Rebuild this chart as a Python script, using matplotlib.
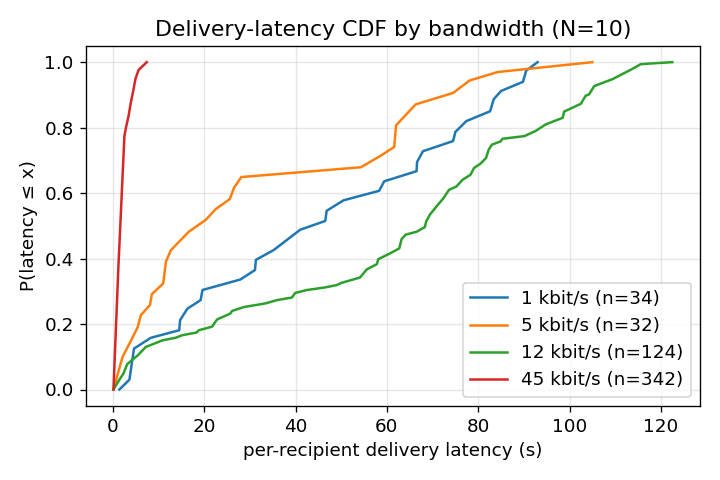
import matplotlib
matplotlib.use("Agg")
import matplotlib.pyplot as plt

# CDF vertices (latency s, cumulative probability)
lat_1k = [1.4, 3.6, 4.6, 8.3, 14.5, 14.7, 16.3, 19.2, 19.6, 27.9, 31.1, 31.3, 35.2,
          41.0, 46.5, 46.8, 50.5, 58.3, 59.4, 66.5, 66.6, 67.9, 74.5, 75.0, 77.4,
          82.6, 83.4, 85.0, 89.8, 90.5, 93.0]
cdf_1k = [0.0, 0.03, 0.125, 0.158, 0.181, 0.212, 0.247, 0.273, 0.304, 0.336, 0.365,
          0.396, 0.426, 0.488, 0.515, 0.546, 0.578, 0.607, 0.636, 0.667, 0.695, 0.728,
          0.759, 0.787, 0.82, 0.85, 0.887, 0.912, 0.94, 0.974, 1.0]

lat_5k = [0.1, 2.1, 3.6, 5.4, 6.1, 8.1, 8.5, 11.0, 11.6, 12.7, 16.6, 20.3, 22.5,
          25.6, 26.5, 28.1, 54.3, 58.5, 61.6, 62.0, 66.3, 74.5, 78.1, 84.3, 105.0]
cdf_5k = [0.0, 0.1, 0.14, 0.19, 0.227, 0.258, 0.291, 0.324, 0.391, 0.426, 0.482,
          0.518, 0.551, 0.582, 0.616, 0.649, 0.679, 0.713, 0.741, 0.807, 0.871,
          0.906, 0.944, 0.97, 1.0]

lat_12k = [0.1, 1.4, 2.3, 3.1, 3.9, 5.4, 7.2, 10.8, 13.7, 15.2, 18.3, 18.8, 21.7,
           22.8, 25.7, 26.1, 28.7, 33.4, 35.9, 39.2, 39.9, 42.5, 46.5, 49.0, 50.1,
           54.1, 55.6, 57.8, 58.1, 60.7, 62.7, 63.2, 64.1, 66.5, 68.3, 68.6, 69.4,
           71.2, 72.3, 73.6, 75.2, 76.6, 78.3, 79.1, 80.5, 81.7, 82.3, 83.0, 84.9,
           85.3, 90.1, 92.6, 94.8, 98.5, 98.8, 102.5, 103.5, 104.3, 105.4, 109.4,
           113.7, 115.6, 122.5]
cdf_12k = [0.0, 0.03, 0.049, 0.077, 0.087, 0.104, 0.13, 0.15, 0.158, 0.166, 0.174,
           0.181, 0.192, 0.214, 0.232, 0.24, 0.252, 0.263, 0.273, 0.281, 0.295,
           0.304, 0.312, 0.319, 0.326, 0.342, 0.367, 0.383, 0.398, 0.416, 0.431,
           0.459, 0.473, 0.482, 0.496, 0.513, 0.534, 0.565, 0.583, 0.61, 0.62,
           0.641, 0.656, 0.677, 0.69, 0.707, 0.733, 0.748, 0.758, 0.766, 0.774,
           0.79, 0.81, 0.83, 0.849, 0.873, 0.897, 0.902, 0.927, 0.948, 0.979,
           0.994, 1.0]

lat_45k = [0.1, 1.2, 2.5, 2.84, 3.4, 3.9, 4.5, 4.9, 5.6, 6.5, 7.4]
cdf_45k = [0.0, 0.38, 0.774, 0.80, 0.835, 0.876, 0.917, 0.948, 0.976, 0.988, 1.0]

labels = ["1 kbit/s (n=34)", "5 kbit/s (n=32)", "12 kbit/s (n=124)", "45 kbit/s (n=342)"]

plt.rcParams['font.size'] = 11

fig, ax = plt.subplots(figsize=(6, 4), dpi=120)
ax.plot(lat_1k, cdf_1k, label=labels[0])
ax.plot(lat_5k, cdf_5k, label=labels[1])
ax.plot(lat_12k, cdf_12k, label=labels[2])
ax.plot(lat_45k, cdf_45k, label=labels[3])

ax.set_title("Delivery-latency CDF by bandwidth (N=10)")
ax.set_xlabel("per-recipient delivery latency (s)")
ax.set_ylabel("P(latency ≤ x)")
ax.grid(True, alpha=0.3)
ax.legend(loc="lower right")

fig.tight_layout()
fig.savefig("out.png")
